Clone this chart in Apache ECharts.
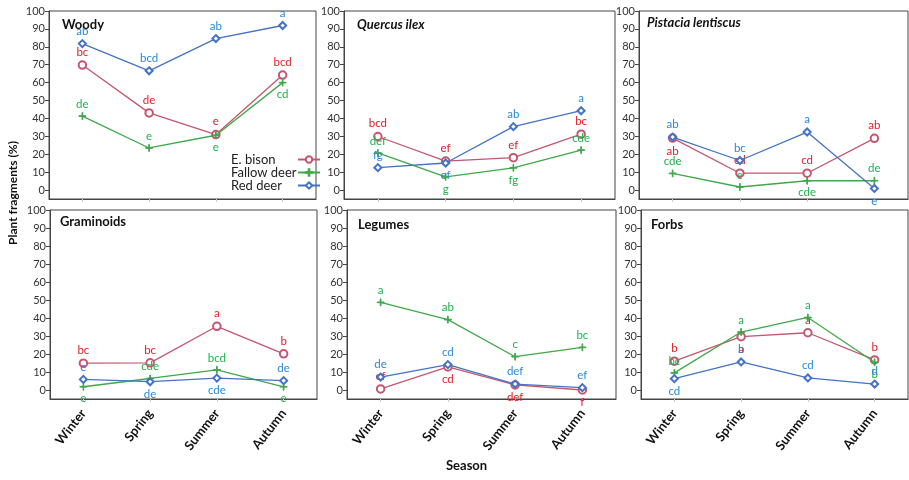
<!DOCTYPE html>
<html><head><meta charset="utf-8">
<script src="https://cdn.jsdelivr.net/npm/echarts@6/dist/echarts.min.js"></script>
<style>html,body{margin:0;padding:0;background:#fff}#c{width:909px;height:480px}</style>
</head><body><div id="c"></div>
<script>
const seasons = ['Winter','Spring','Summer','Autumn'];
const yTicks = [0,10,20,30,40,50,60,70,80,90,100];
const groupNames = ['E. bison','Fallow deer','Red deer'];
const panelTitles = ['Woody','Quercus ilex','Pistacia lentiscus','Graminoids','Legumes','Forbs'];

// values (%)
const woodyBison = [69.8, 43.1, 31.0, 64.2];
const woodyFallow = [41.3, 23.5, 30.6, 60.0];
const woodyRed = [81.8, 66.6, 84.6, 91.9];
const quercusBison = [29.9, 16.2, 18.1, 31.2];
const quercusFallow = [20.7, 7.4, 12.4, 22.3];
const quercusRed = [12.5, 15.1, 35.4, 44.3];
const pistaciaBison = [29.0, 9.4, 9.4, 28.9];
const pistaciaFallow = [9.3, 1.7, 5.2, 5.2];
const pistaciaRed = [29.6, 16.5, 32.4, 0.9];
const graminoidsBison = [14.9, 15.1, 35.4, 20.1];
const graminoidsFallow = [1.8, 6.4, 11.2, 1.8];
const graminoidsRed = [5.9, 4.6, 6.6, 5.2];
const legumesBison = [0.6, 12.8, 2.8, 0.0];
const legumesFallow = [48.7, 39.1, 18.5, 23.7];
const legumesRed = [7.2, 14.1, 3.3, 1.3];
const forbsBison = [16.0, 29.6, 31.8, 16.7];
const forbsFallow = [9.5, 32.2, 40.3, 15.4];
const forbsRed = [6.3, 15.6, 6.7, 3.3];

// significance letters
const woodyBisonL = ['bc','de','e','bcd'];
const woodyFallowL = ['de','e','e','cd'];
const woodyRedL = ['ab','bcd','ab','a'];
const quercusBisonL = ['bcd','ef','ef','bc'];
const quercusFallowL = ['def','g','fg','cde'];
const quercusRedL = ['fg','ef','ab','a'];
const pistaciaBisonL = ['ab','cd','cd','ab'];
const pistaciaFallowL = ['cde','e','cde','de'];
const pistaciaRedL = ['ab','bc','a','e'];
const graminoidsBisonL = ['bc','bc','a','b'];
const graminoidsFallowL = ['e','cde','bcd','e'];
const graminoidsRedL = ['e','de','cde','de'];
const legumesBisonL = ['ef','cd','def','f'];
const legumesFallowL = ['a','ab','c','bc'];
const legumesRedL = ['de','cd','def','ef'];
const forbsBisonL = ['b','a','a','b'];
const forbsFallowL = ['bc','a','a','b'];
const forbsRedL = ['cd','b','cd','d'];

// letter placement (t = above, b = below)
const woodyPos = [['t','t','t','t'],['t','t','b','b'],['t','t','t','t']];
const quercusPos = [['t','t','t','t'],['t','b','b','t'],['t','b','t','t']];
const pistaciaPos = [['b','t','t','t'],['t','t','b','t'],['t','t','t','b']];
const graminoidsPos = [['t','t','t','t'],['b','t','t','b'],['t','b','b','t']];
const legumesPos = [['t','b','b','b'],['t','t','t','t'],['t','t','t','t']];
const forbsPos = [['t','b','t','t'],['t','t','t','b'],['b','t','t','t']];

const panels = [
  [[woodyBison,woodyFallow,woodyRed],[woodyBisonL,woodyFallowL,woodyRedL],woodyPos],
  [[quercusBison,quercusFallow,quercusRed],[quercusBisonL,quercusFallowL,quercusRedL],quercusPos],
  [[pistaciaBison,pistaciaFallow,pistaciaRed],[pistaciaBisonL,pistaciaFallowL,pistaciaRedL],pistaciaPos],
  [[graminoidsBison,graminoidsFallow,graminoidsRed],[graminoidsBisonL,graminoidsFallowL,graminoidsRedL],graminoidsPos],
  [[legumesBison,legumesFallow,legumesRed],[legumesBisonL,legumesFallowL,legumesRedL],legumesPos],
  [[forbsBison,forbsFallow,forbsRed],[forbsBisonL,forbsFallowL,forbsRedL],forbsPos]
];

const FONT = 'Lato, "Open Sans", sans-serif';
const lineColors = ['#c4566f','#3fa84a','#4472c4'];
const labelColors = ['#e3202a','#1fb24c','#2b88d8'];
const symbols = ['emptyCircle','path://M0,4.5H10V5.5H0ZM4.5,0H5.5V10H4.5Z','emptyDiamond'];
const symbolSizes = [7.5,7,7];

const gridBoxes = [
  {left:49, top:11, width:267, height:188},
  {left:344, top:11, width:271, height:188},
  {left:639, top:11, width:269, height:188},
  {left:50, top:210, width:267, height:189},
  {left:347, top:210, width:269, height:189},
  {left:641, top:210, width:267, height:189}
];
const titlePos = [[62,18],[357,18],[647,16],[60,215],[358,218],[651,218]];

const grids = [], xAxes = [], yAxes = [], series = [], titles = [];
panels.forEach((p, k) => {
  grids.push(Object.assign({show:true, borderColor:'#444', borderWidth:1, containLabel:false}, gridBoxes[k]));
  xAxes.push({type:'category', gridIndex:k, data:seasons, boundaryGap:true,
    axisLine:{onZero:false, lineStyle:{color:'#444'}},
    axisTick:{show:true, alignWithLabel:true, length:3, lineStyle:{color:'#ccc'}},
    axisLabel:{show:k>=3, rotate:52, margin:12, fontFamily:FONT, fontWeight:'bold', fontSize:13, color:'#111'}});
  yAxes.push({type:'value', gridIndex:k, min:-5, max:100,
    splitLine:{show:false},
    axisLine:{show:true, onZero:false, lineStyle:{color:'#444'}},
    axisTick:{show:true, length:4, customValues:yTicks, lineStyle:{color:'#444'}},
    axisLabel:{customValues:yTicks, fontFamily:FONT, fontSize:11, color:'#333', margin:4}});
  const italic = (k===1 || k===2);
  titles.push({text:panelTitles[k], left:titlePos[k][0], top:titlePos[k][1], padding:0,
    textStyle:{fontFamily:FONT, fontSize:13, fontWeight:'bold', fontStyle:italic?'italic':'normal', color:'#111'}});
  for (let g = 0; g < 3; g++) {
    const vals = p[0][g], letters = p[1][g], pos = p[2][g];
    series.push({
      type:'line', name:groupNames[g], xAxisIndex:k, yAxisIndex:k,
      symbol:symbols[g], symbolSize:symbolSizes[g], showAllSymbol:true,
      lineStyle:{color:lineColors[g], width:1.3},
      itemStyle:{color:lineColors[g], borderColor:lineColors[g], borderWidth:1},
      emphasis:{disabled:true},
      label:{show:true, distance:2, fontFamily:FONT, fontSize:11.5, color:labelColors[g],
        formatter:(pp)=>letters[pp.dataIndex]},
      data: vals.map((v,i)=>({value:v, label:{position: pos[i]==='t' ? 'top' : 'bottom'}})),
      z: 3 + g
    });
  }
});

titles.push({text:'Season', left:446, top:459, padding:0,
  textStyle:{fontFamily:FONT, fontSize:13, fontWeight:'bold', color:'#111'}});

const chart = echarts.init(document.getElementById('c'), null, {renderer:'canvas'});
chart.setOption({
  animation:false,
  backgroundColor:'#fff',
  title: titles,
  legend:{data:groupNames, orient:'vertical', left:226, top:148, align:'right',
    itemGap:0, itemWidth:22, itemHeight:8,
    formatter:(n)=>'{a|'+n+'}',
    textStyle:{fontFamily:FONT, fontSize:13, color:'#222',
      rich:{a:{width:62, align:'left', fontFamily:FONT, fontSize:13, color:'#222', lineHeight:15}}}},
  grid: grids, xAxis: xAxes, yAxis: yAxes, series: series,
  graphic:[{type:'text', x:13, y:193, rotation:Math.PI/2,
    style:{text:'Plant fragments (%)', font:'bold 12px Lato, sans-serif', fill:'#111', align:'center', verticalAlign:'middle'}}]
});
</script></body></html>
